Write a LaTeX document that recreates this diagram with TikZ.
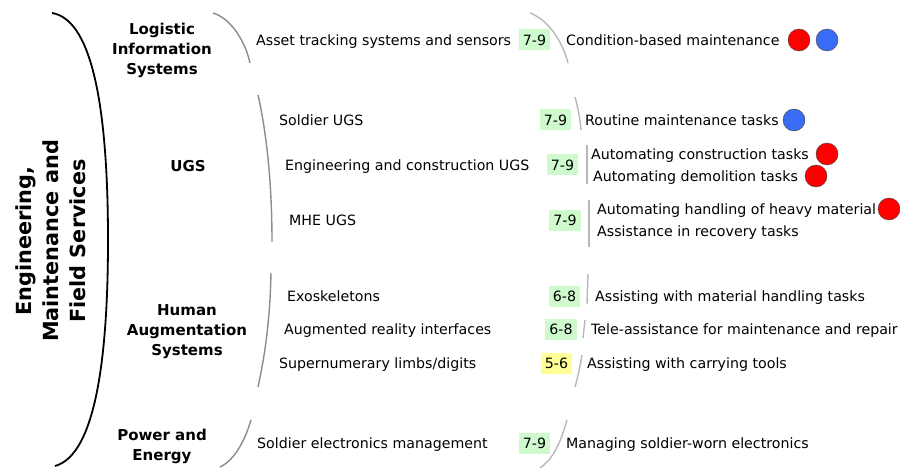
\documentclass[tikz,border=0pt]{standalone}
\usepackage{fontspec}
\setmainfont{DejaVu Sans}
\definecolor{trlgreen}{RGB}{206,250,206}
\definecolor{trlyellow}{RGB}{255,255,150}
\definecolor{ballred}{RGB}{255,0,0}
\definecolor{ballblue}{RGB}{58,108,245}

\begin{document}
\begin{tikzpicture}[x=1pt,y=-1pt,
  item/.style={anchor=west,inner sep=0pt,text height=11pt,text depth=0pt,font=\fontsize{14.2}{17}\selectfont},
  cat/.style={align=center,inner sep=0pt,font=\fontsize{15}{20}\selectfont\bfseries},
  trl/.style={fill=trlgreen,inner xsep=4pt,inner ysep=0pt,minimum height=21pt,text height=11pt,text depth=0pt,font=\fontsize{14.2}{17}\selectfont},
  ball/.style={circle,draw=black!75,minimum size=22pt,inner sep=0pt},
  bigbrace/.style={draw=black,line width=1.8pt},
  catbrace/.style={draw=black!45,line width=1.4pt},
  outbrace/.style={draw=black!28,line width=1.4pt}]
\useasboundingbox (0,0) rectangle (900,468);
\node[rotate=90,align=center,inner sep=0pt,font=\fontsize{20.8}{27}\selectfont\bfseries] (emfs) at (51,241) {Engineering,\\Maintenance and\\Field Services};
\draw[bigbrace] (52,13) .. controls (95,20) and (108,120) .. (108,240) .. controls (108,360) and (95,455) .. (55,466);
\node[cat] (lis) at (162,50) {Logistic\\Information\\Systems};
\node[cat] (ugs) at (188,166) {UGS};
\node[cat] (has) at (187,332) {Human\\Augmentation\\Systems};
\node[cat] (pe) at (162,446) {Power and\\Energy};
\draw[catbrace] (213,13) .. controls (230,18) and (245,40) .. (250,63);
\draw[catbrace] (258,95) .. controls (266,130) and (272,180) .. (272,242);
\draw[catbrace] (271,273) .. controls (270,320) and (265,355) .. (258,387);
\draw[catbrace] (251,420) .. controls (245,440) and (235,460) .. (220,467);
\node[item] (asset) at (256,40) {Asset tracking systems and sensors};
\node[item] (soldugs) at (279,120) {Soldier UGS};
\node[item] (engugs) at (285,165) {Engineering and construction UGS};
\node[item] (mheugs) at (289,220) {MHE UGS};
\node[item] (exo) at (287,296) {Exoskeletons};
\node[item] (arint) at (284,329) {Augmented reality interfaces};
\node[item] (suplimb) at (279,363) {Supernumerary limbs/digits};
\node[item] (soldelec) at (257,443) {Soldier electronics management};
\node[trl] (trlasset) at (534.5,40) {7-9};
\node[trl] (trlsold) at (555.5,120) {7-9};
\node[trl] (trleng) at (562.5,165) {7-9};
\node[trl] (trlmhe) at (565,220) {7-9};
\node[trl] (trlexo) at (564.5,296) {6-8};
\node[trl] (trlar) at (561,329) {6-8};
\node[trl,fill=trlyellow] (trlsup) at (556.5,363) {5-6};
\node[trl] (trlelec) at (534.5,443) {7-9};
\draw[outbrace] (530,13) .. controls (548,20) and (562,40) .. (568,63);
\draw[outbrace] (575,97) .. controls (578,108) and (580,119) .. (581,130);
\draw[outbrace] (587,145) -- (587,184);
\draw[outbrace] (589,200) -- (589,247);
\draw[outbrace] (588,274) -- (587,304);
\draw[outbrace] (585,320) -- (583,338);
\draw[outbrace] (582,355) .. controls (580,366) and (578,377) .. (575,387);
\draw[outbrace] (567,420) .. controls (560,445) and (552,460) .. (540,468);
\node[item] (cbm) at (566,40) {Condition-based maintenance};
\node[item] (routine) at (585,120) {Routine maintenance tasks};
\node[item] (autocon) at (591,154) {Automating construction tasks};
\node[item] (autodem) at (593,176) {Automating demolition tasks};
\node[item] (autoheavy) at (597,209) {Automating handling of heavy material};
\node[item] (recov) at (597,231) {Assistance in recovery tasks};
\node[item] (matl) at (595,296) {Assisting with material handling tasks};
\node[item] (tele) at (591,329) {Tele-assistance for maintenance and repair};
\node[item] (carry) at (587,363) {Assisting with carrying tools};
\node[item] (elec) at (566,443) {Managing soldier-worn electronics};
\node[ball,fill=ballred] (cbmred) at (799,40) {};
\node[ball,fill=ballblue] (cbmblue) at (827,40) {};
\node[ball,fill=ballblue] (routineblue) at (794,120) {};
\node[ball,fill=ballred] (autoconred) at (827,154) {};
\node[ball,fill=ballred] (autodemred) at (816,176) {};
\node[ball,fill=ballred] (autoheavyred) at (889,209) {};
\end{tikzpicture}
\end{document}
